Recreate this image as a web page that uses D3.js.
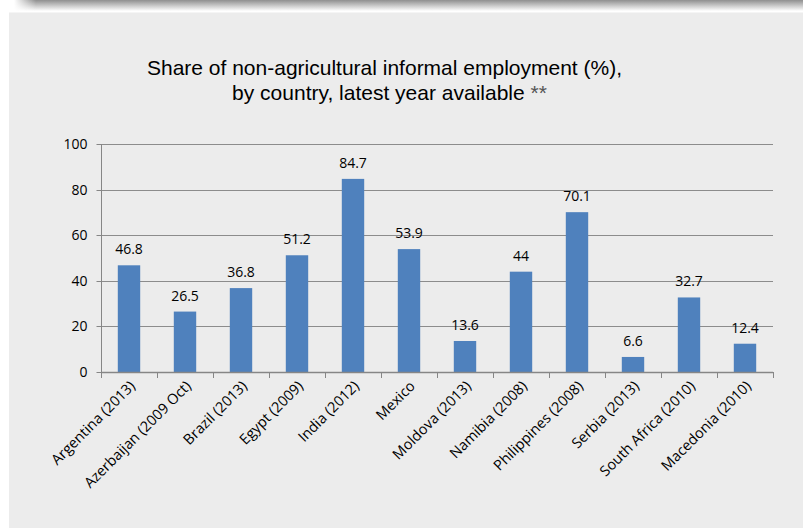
<!DOCTYPE html>
<html><head><meta charset="utf-8">
<script src="https://cdn.jsdelivr.net/npm/d3@7"></script>
<style>html,body{margin:0;padding:0;background:#fff;}svg{display:block;}</style>
</head><body>
<svg id="c" width="803" height="528"></svg>
<script>
const categories = ["Argentina (2013)","Azerbaijan (2009 Oct)","Brazil (2013)","Egypt (2009)","India (2012)","Mexico","Moldova (2013)","Namibia (2008)","Philippines (2008)","Serbia (2013)","South Africa (2010)","Macedonia (2010)"];
const values = [46.8,26.5,36.8,51.2,84.7,53.9,13.6,44,70.1,6.6,32.7,12.4];
const yTicks = [0,20,40,60,80,100];
const titleLines = ["Share of non-agricultural informal employment (%),","by country, latest year available **"];

const FONT = "'Open Sans', Lato, sans-serif";
const svg = d3.select("#c");
const defs = svg.append("defs");
const g1 = defs.append("linearGradient").attr("id","sh").attr("x1",0).attr("y1",0).attr("x2",0).attr("y2",1);
g1.append("stop").attr("offset","0").attr("stop-color","#8f8f8f");
g1.append("stop").attr("offset","1").attr("stop-color","#ffffff");
const g2 = defs.append("linearGradient").attr("id","shl").attr("x1",0).attr("y1",0).attr("x2",1).attr("y2",0);
g2.append("stop").attr("offset","0").attr("stop-color","#fff").attr("stop-opacity",1);
g2.append("stop").attr("offset","1").attr("stop-color","#fff").attr("stop-opacity",0);

svg.append("rect").attr("x",0).attr("y",0).attr("width",803).attr("height",528).attr("fill","#fff");
svg.append("rect").attr("x",14).attr("y",0).attr("width",789).attr("height",11).attr("fill","url(#sh)");
svg.append("rect").attr("x",14).attr("y",0).attr("width",22).attr("height",11).attr("fill","url(#shl)");
svg.append("rect").attr("x",9).attr("y",12.5).attr("width",794).attr("height",516).attr("fill","#ececec");

const x = d3.scaleBand().domain(categories).range([101,773]).paddingInner(0.6).paddingOuter(0.3);
const y = d3.scaleLinear().domain([0,100]).range([372,144]);

// gridlines
svg.append("g").selectAll("line").data(yTicks.filter(d=>d>0)).join("line")
  .attr("x1",101).attr("x2",773).attr("y1",d=>Math.round(y(d))+0.5).attr("y2",d=>Math.round(y(d))+0.5)
  .attr("stroke","#8c8c8c").attr("stroke-width",1);

// y axis
const yAxis = d3.axisLeft(y).tickValues(yTicks).tickSize(5).tickPadding(9);
const ga = svg.append("g").attr("transform","translate(101.5,0)").call(yAxis);
ga.selectAll("line").attr("stroke","#868686");
ga.select(".domain").attr("stroke","#868686").attr("d","M-0,144V372");
ga.selectAll("text").attr("font-family",FONT).attr("font-size",14).attr("fill","#000");
ga.selectAll(".tick").attr("transform",d=>`translate(0,${Math.round(y(d))+0.5})`);

// bars
svg.append("g").selectAll("rect").data(values).join("rect")
  .attr("x",(d,i)=>x(categories[i])).attr("width",x.bandwidth())
  .attr("y",d=>y(d)).attr("height",d=>y(0)-y(d))
  .attr("fill","#4f81bd");

// x axis line and ticks
const xa = svg.append("g");
xa.append("line").attr("x1",101).attr("x2",773).attr("y1",372.5).attr("y2",372.5).attr("stroke","#868686").attr("stroke-width",1.5);
const step = x.step();
xa.selectAll("line.t").data(d3.range(categories.length+1)).join("line").attr("class","t")
  .attr("x1",i=>Math.round(101+i*step)+0.5).attr("x2",i=>Math.round(101+i*step)+0.5)
  .attr("y1",372).attr("y2",378).attr("stroke","#868686");

// x labels
svg.append("g").selectAll("text").data(categories).join("text")
  .attr("transform",d=>`translate(${x(d)+x.bandwidth()/2+7},${387}) rotate(-45)`)
  .attr("text-anchor","end")
  .attr("font-family",FONT).attr("font-size",14.5).attr("fill","#000")
  .text(d=>d);

// data labels
svg.append("g").selectAll("text").data(values).join("text")
  .attr("x",(d,i)=>x(categories[i])+x.bandwidth()/2)
  .attr("y",d=>y(d)-11)
  .attr("text-anchor","middle")
  .attr("font-family",FONT).attr("font-size",14).attr("fill","#000")
  .text(d=>d);

// title
svg.append("text").attr("x",384.5).attr("y",75).attr("text-anchor","middle")
  .attr("font-family","'Liberation Sans', Arial, sans-serif").attr("font-size",21).attr("fill","#000")
  .text(titleLines[0]);
const t2 = svg.append("text").attr("x",389.5).attr("y",100).attr("text-anchor","middle")
  .attr("font-family","'Liberation Sans', Arial, sans-serif").attr("font-size",21).attr("fill","#000");
t2.append("tspan").text(titleLines[1].replace(" **"," "));
t2.append("tspan").attr("fill","#555").text("**");
</script>
</body></html>
